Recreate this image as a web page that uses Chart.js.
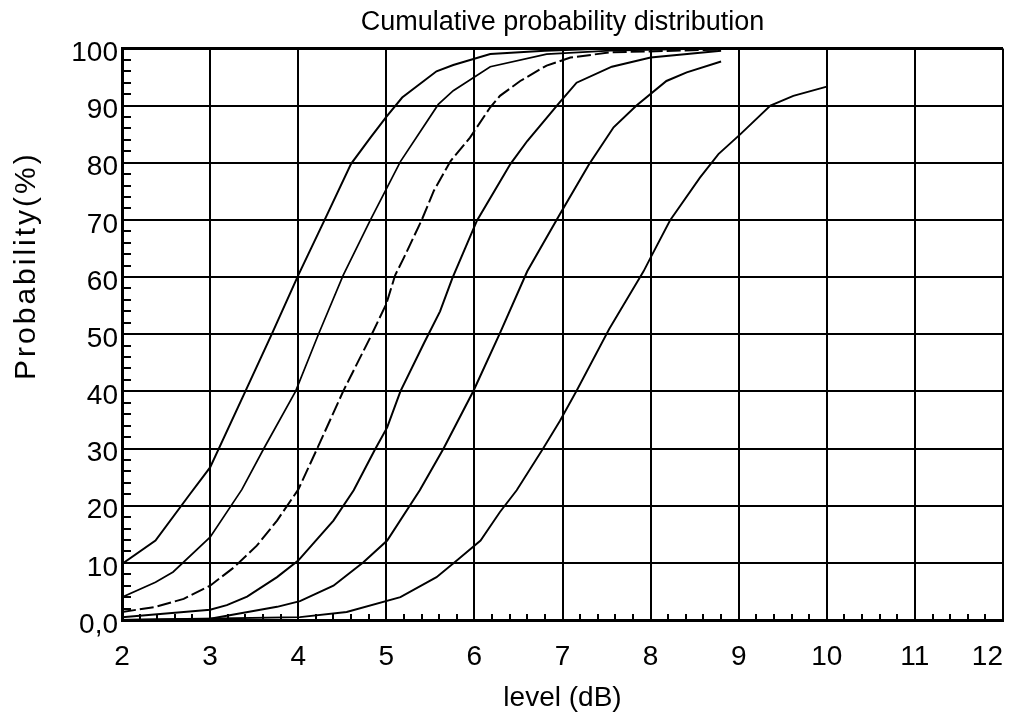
<!DOCTYPE html>
<html>
<head>
<meta charset="utf-8">
<script src="https://cdn.jsdelivr.net/npm/chart.js@4.4.1/dist/chart.umd.min.js"></script>
<style>
  html, body { margin: 0; padding: 0; background: #fff; }
  .wrap { width: 1012px; height: 715px; }
</style>
</head>
<body>
<div class="wrap"><canvas class="cdf-canvas"></canvas></div>
<script>
      // curves (level dB / probability %)
      const c1x = [2, 2.38, 2.77, 3.0, 3.4, 3.7, 4.0, 4.3, 4.6, 4.82, 5.0, 5.18, 5.57, 5.76, 6.18, 6.8, 7.5, 8.8];
      const c1y = [9.8, 13.9, 22, 26.7, 40, 50, 60.3, 70, 79.8, 84.4, 88, 91.4, 96, 97.1, 99, 99.6, 100, 100];

      const c2x = [2, 2.38, 2.58, 3.0, 3.36, 3.61, 3.97, 4.23, 4.51, 4.82, 5.16, 5.59, 5.76, 6.18, 6.82, 7.54, 8.8];
      const c2y = [4, 6.6, 8.4, 14.5, 22.8, 30, 40, 50, 60.3, 70, 80.2, 90.2, 92.6, 96.8, 99, 99.6, 100];

      const c3x = [2, 2.38, 2.7, 3.0, 3.27, 3.53, 3.76, 4.0, 4.21, 4.51, 4.82, 5.0, 5.1, 5.2, 5.4, 5.54, 5.73, 5.95, 6.18, 6.29, 6.52, 6.82, 7.09, 7.54, 8.8];
      const c3y = [1.4, 2.3, 3.7, 6, 9.2, 13, 17.4, 22.8, 29.8, 40, 49.5, 55.3, 60.3, 63.4, 69.9, 75.1, 80.3, 84.4, 89.7, 91.7, 94.3, 97, 98.4, 99.3, 99.8];

      const c4x = [2, 3.0, 3.19, 3.42, 3.76, 4.0, 4.4, 4.63, 4.87, 5.01, 5.16, 5.43, 5.61, 5.75, 6.03, 6.41, 6.6, 6.97, 7.16, 7.56, 8.0, 8.8];
      const c4y = [0.5, 1.8, 2.6, 4.1, 7.5, 10.4, 17.4, 22.7, 29.8, 33.7, 40, 48.5, 54, 59.8, 69.9, 79.8, 83.8, 90.6, 94, 96.8, 98.4, 99.6];

      const c5x = [2, 3.0, 3.76, 4.02, 4.4, 4.74, 5.01, 5.38, 5.65, 5.99, 6.29, 6.6, 6.97, 7.3, 7.58, 7.84, 8.18, 8.41, 8.8];
      const c5y = [0, 0.2, 2.3, 3.3, 6, 10.1, 13.9, 22.7, 30, 40.1, 50.2, 61, 71, 79.7, 86.2, 90, 94.3, 95.8, 97.7];

      const c6x = [2, 4.02, 4.55, 5.16, 5.57, 5.8, 6.07, 6.29, 6.48, 6.78, 6.97, 7.16, 7.53, 7.92, 8.0, 8.22, 8.56, 8.77, 9.02, 9.36, 9.62, 10.0];
      const c6y = [0, 0.5, 1.4, 4, 7.5, 10.4, 13.9, 18.9, 22.7, 30, 34.8, 40.1, 50.9, 61, 63.4, 69.9, 77.4, 81.5, 85, 90, 91.7, 93.3];

      const xTicks = [2, 3, 4, 5, 6, 7, 8, 9, 10, 11, 12];
      const yTicks = [0, 10, 20, 30, 40, 50, 60, 70, 80, 90, 100];

      const FONT = "'Liberation Sans', Arial, sans-serif";

      function pts(xs, ys) {
        return xs.map((v, i) => ({ x: v, y: ys[i] }));
      }

      function curve(xs, ys, width, dash) {
        return {
          data: pts(xs, ys),
          showLine: true,
          borderColor: "#000",
          backgroundColor: "#000",
          borderWidth: width,
          borderDash: dash || [],
          pointRadius: 0,
          tension: 0,
        };
      }

      // small inner ticks + rotated y title
      const extras = {
        id: "extras",
        afterDraw(chart) {
          const { ctx, chartArea, scales } = chart;
          const x = scales.x;
          const y = scales.y;
          ctx.save();
          ctx.strokeStyle = "#000";
          ctx.lineWidth = 2;
          ctx.beginPath();
          for (let v = 2; v < 100; v += 2) {
            if (v % 10 === 0) continue;
            const py = Math.round(y.getPixelForValue(v));
            ctx.moveTo(chartArea.left, py);
            ctx.lineTo(chartArea.left + 9, py);
          }
          for (let i = 1; i < 50; i++) {
            if (i % 5 === 0) continue;
            const px = Math.round(x.getPixelForValue(2 + i * 0.2));
            ctx.moveTo(px, chartArea.bottom);
            ctx.lineTo(px, chartArea.bottom - 6);
          }
          ctx.stroke();

          ctx.fillStyle = "#000";
          ctx.font = "30px " + FONT;
          ctx.textAlign = "center";
          ctx.textBaseline = "middle";
          ctx.translate(27, chartArea.top + (chartArea.bottom - chartArea.top) * 0.38);
          ctx.rotate(-Math.PI / 2);
          ctx.letterSpacing = "3px";
          ctx.fillText("Probability(%)", 0, 0);
          ctx.restore();
        },
      };

      const ctx = document.querySelector(".cdf-canvas").getContext("2d");

      new Chart(ctx, {
        type: "scatter",
        data: {
          datasets: [
            curve(c1x, c1y, 2),
            curve(c2x, c2y, 1.7),
            curve(c3x, c3y, 2, [14, 4]),
            curve(c4x, c4y, 2),
            curve(c5x, c5y, 2),
            curve(c6x, c6y, 1.9),
          ],
        },
        options: {
          maintainAspectRatio: false,
          responsive: true,
          animation: false,
          layout: {
            padding: { left: 0, right: 9, top: 0, bottom: 0 },
          },
          plugins: {
            legend: { display: false },
            tooltip: { enabled: false },
            title: {
              display: true,
              fullSize: false,
              text: "Cumulative probability distribution",
              color: "#000",
              font: { family: FONT, size: 27, weight: "normal" },
              padding: { top: 6, bottom: 10 },
            },
          },
          scales: {
            x: {
              type: "linear",
              min: 2,
              max: 12,
              // a blank duplicate first tick so only the last label is pushed inward
              afterBuildTicks: (s) => {
                s.ticks = [{ value: xTicks[0] }].concat(xTicks.map((v) => ({ value: v })));
              },
              afterFit: (s) => {
                s.height = 95;
                s.paddingLeft = 0;
                s.paddingRight = 0;
              },
              grid: {
                color: "#000",
                lineWidth: 2,
                drawTicks: false,
              },
              border: { color: "#000", width: 3 },
              ticks: {
                color: "#000",
                padding: 20,
                align: "inner",
                font: { family: FONT, size: 28 },
                callback: (v, i) => (i === 0 ? "" : String(v)),
              },
              title: {
                display: true,
                text: "level (dB)",
                color: "#000",
                font: { family: FONT, size: 28 },
                padding: { top: 0, bottom: 0 },
              },
            },
            y: {
              type: "linear",
              min: 0,
              max: 100,
              afterBuildTicks: (s) => {
                s.ticks = yTicks.map((v) => ({ value: v }));
              },
              afterFit: (s) => {
                s.width = 122;
              },
              grid: {
                color: "#000",
                lineWidth: (c) => (c.tick && c.tick.value === 100 ? 3 : 2),
                drawTicks: false,
              },
              border: { color: "#000", width: 3 },
              ticks: {
                color: "#000",
                padding: 4,
                labelOffset: 5,
                font: { family: FONT, size: 28 },
                callback: (v) => (v === 0 ? "0,0" : String(v)),
              },
            },
          },
        },
        plugins: [extras],
      });
</script>
</body>
</html>
